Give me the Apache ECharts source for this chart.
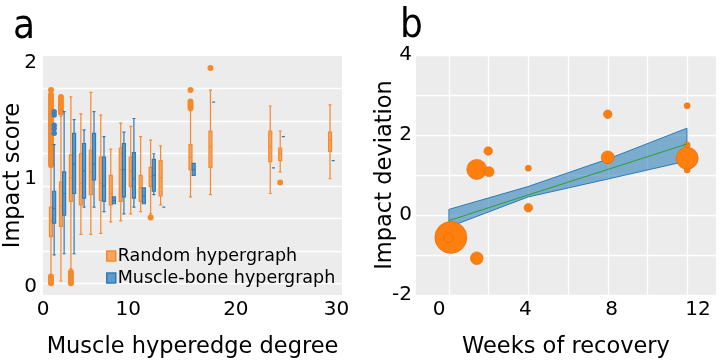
<!DOCTYPE html>
<html><head><meta charset="utf-8">
<script src="https://cdn.jsdelivr.net/npm/echarts@6/dist/echarts.min.js"></script>
<style>html,body{margin:0;padding:0;background:#fff}#c{width:720px;height:361px}</style>
</head><body><div id="c"></div>
<script>
// ---------------- Panel a data ----------------
const randomDegrees = [1,2,3,4,5,6,7,8,9,10,11,12,15,17,23,24,29];
// [lower whisker, Q1, median, Q3, upper whisker]
const randomBoxes = [
  [0.06,0.41,0.55,0.67,1.02],
  [0.02,0.50,0.68,0.89,1.47],
  [0.13,0.72,0.93,1.13,1.64],
  [0.43,0.69,0.88,1.14,1.49],
  [0.43,0.78,0.98,1.17,1.68],
  [0.44,0.73,0.88,1.11,1.48],
  [0.54,0.69,0.79,0.95,1.18],
  [0.55,0.72,1.00,1.19,1.41],
  [0.61,0.85,0.99,1.11,1.38],
  [0.63,0.72,0.84,0.95,1.29],
  [0.61,0.85,0.94,1.02,1.26],
  [0.69,0.77,0.93,1.08,1.21],
  [0.76,1.00,1.11,1.22,1.52],
  [0.78,1.02,1.20,1.34,1.70],
  [0.79,1.07,1.20,1.34,1.56],
  [0.98,1.08,1.14,1.19,1.34],
  [0.92,1.16,1.26,1.33,1.57]
];
const randomOutlierDegrees = [
  1,1,1,1,1,1,1,1,1,1,1,1,1,1,1,1,1,1,1,1,1,1,1,1,1,1,1,1,1,1,1,1,1,1,1,1,1,1,
  2,2,2,2,2,2,2,2, 3,3,3,3,3,3, 11, 15,15,15,15,15, 17, 24];
const randomOutlierValues  = [
  1.70,1.66,1.64,1.62,1.60,1.58,1.56,1.54,1.52,1.50,1.48,1.46,1.44,1.42,1.40,1.38,1.36,1.34,1.32,1.30,
  1.28,1.26,1.24,1.22,1.20,1.18,1.16,1.14,1.12,1.10,1.08,1.06,1.04,0.00,0.015,0.03,0.045,0.06,
  1.64,1.62,1.60,1.58,1.56,1.54,1.52,1.50, 0.00,0.02,0.04,0.06,0.08,0.10, 0.58, 1.70,1.60,1.58,1.56,1.54, 1.895, 0.886];

const muscleDegrees = [1,2,3,4,5,6,7,8,9,10,11,12,15,17,23,24,29];
const muscleBoxes = [
  [0.25,0.53,0.66,0.81,1.22],
  [0.26,0.60,0.79,0.98,1.51],
  [0.26,0.79,1.05,1.32,1.44],
  [0.67,0.75,0.99,1.23,1.35],
  [0.67,0.91,1.05,1.32,1.51],
  [0.63,0.72,0.86,1.11,1.29],
  [0.70,0.70,0.73,0.76,0.76],
  [0.61,0.76,1.00,1.23,1.33],
  [0.67,0.75,0.92,1.15,1.45],
  [0.70,0.70,0.77,0.84,0.84],
  [0.78,0.81,0.95,1.09,1.14],
  [0.67,0.67,0.67,0.67,0.67],
  [0.95,0.95,1.00,1.055,1.055],
  [1.595,1.595,1.595,1.595,1.595],
  [1.016,1.016,1.016,1.016,1.016],
  [1.29,1.29,1.29,1.29,1.29],
  [1.08,1.08,1.08,1.08,1.08]
];
const muscleOutlierDegrees = [1,1,1,1,1];
const muscleOutlierValues  = [1.51,1.48,1.39,1.36,1.32];

const yTicksA = [0,1,2];
const xTickLabelsA = ['0','10','20','30'];

// ---------------- Panel b data ----------------
const weeks      = [0.55, 0.43, 1.75, 1.75, 2.28, 2.32, 4.14, 4.14, 7.82, 7.82, 11.5, 11.5, 11.5, 11.5];
const deviation  = [-0.56,-0.57, 1.14,-1.08, 1.60, 1.08, 1.17, 0.18, 2.52, 1.44, 2.73, 1.75, 1.125, 1.42];
const pointWeight= [256, 22, 100, 40, 18, 25, 9, 18, 18, 42, 9, 9, 9, 121];
const bandWeeks  = [0.46, 4.12, 7.83, 11.49];
const bandLower  = [-0.30, 0.45, 0.90, 1.35];
const bandUpper  = [0.14, 0.71, 1.40, 2.17];
const fitValues  = [-0.14, 0.50, 1.14, 1.775];
const xTicksB = [0,4,8,12];
const yTicksB = [-2,0,2,4];

// ---------------- layout / style ----------------
const FONT = 'DejaVu Sans';
const BG = '#ececec';
const ORANGE = '#f7892b', ORANGE_FILL = '#f6a560';
const BLUE = '#2f7ab8', BLUE_FILL = '#5d9acd';
const OFF_R = -0.2, OFF_M = 0.12;           // side-by-side offsets of the two box families
const gridLinesA = [0,1,2,3,4,5,6].map(k => k*2/7);   // horizontal grid positions, panel a
const labelPosA = [0, 8.55, 19.35, 29.45];              // where the x tick labels sit, panel a
const gridLinesB = [0.48, 2.29, 4.14, 5.99, 7.82, 9.67, 11.5]; // vertical grid positions, panel b

const chart = echarts.init(document.getElementById('c'), null, {renderer:'canvas'});
const letterStyle = {fontSize:40, fontWeight:'normal', color:'#000', fontFamily:"'DejaVu Sans Condensed', 'DejaVu Sans'"};
const nameStyle = {fontSize:22.5, color:'#000', fontFamily:FONT};
const option = {
  animation: false,
  textStyle: {fontFamily: FONT},
  title: [
    {text:'a', left: 8, top: 3, textStyle:letterStyle},
    {text:'b', left: 395, top: 2, textStyle:letterStyle}
  ],
  legend: {
    orient:'vertical', left:106, top:247, padding:0, itemGap:4, itemWidth:9, itemHeight:10,
    textStyle:{fontSize:17.5, lineHeight:17, color:'#000', fontFamily:FONT, padding:[0,0,0,-3]},
    data:[
      {name:'Random hypergraph', icon:'rect', itemStyle:{color:ORANGE_FILL, borderColor:ORANGE, borderWidth:1.5}},
      {name:'Muscle-bone hypergraph', icon:'rect', itemStyle:{color:BLUE_FILL, borderColor:BLUE, borderWidth:1.5}}
    ]
  },
  grid: [
    {left:43, top:56, width:299, height:239, show:true, backgroundColor:BG, borderWidth:0, containLabel:false, outerBoundsMode:'none'},
    {left:416, top:55, width:300, height:240, show:true, backgroundColor:BG, borderWidth:0, containLabel:false, outerBoundsMode:'none'}
  ],
  xAxis: [
    {gridIndex:0, type:'value', min:0, max:30,
      name:'Muscle hyperedge degree', nameLocation:'middle', nameGap:41, nameMoveOverlap:false,
      nameTextStyle:nameStyle,
      axisLine:{show:false}, axisTick:{show:false}, splitLine:{show:false},
      axisLabel:{customValues:labelPosA, margin:5, fontSize:20, color:'#000', fontFamily:FONT,
        formatter:(v)=>{const i = labelPosA.findIndex(p=>Math.abs(p-v)<1e-6); return i>=0 ? xTickLabelsA[i] : '';}}},
    {gridIndex:0, type:'value', min:0, max:30, show:false, splitLine:{show:false}},
    {gridIndex:1, type:'value', min:-1.066, max:12.836,
      name:'Weeks of recovery', nameLocation:'middle', nameGap:41, nameMoveOverlap:false,
      nameTextStyle:nameStyle,
      axisLine:{show:false}, axisTick:{show:false, customValues:gridLinesB},
      splitLine:{show:true, lineStyle:{color:'#ffffff', width:1.3}},
      axisLabel:{customValues:xTicksB, margin:5, fontSize:20, color:'#000', fontFamily:FONT}}
  ],
  yAxis: [
    {gridIndex:0, type:'value', min:-0.103, max:2.0,
      name:'Impact score', nameLocation:'middle', nameGap:18, nameRotate:90, nameMoveOverlap:false,
      nameTextStyle:nameStyle,
      axisLine:{show:false}, axisTick:{show:false, customValues:gridLinesA},
      splitLine:{show:true, lineStyle:{color:'#ffffff', width:1.3}},
      axisLabel:{customValues:yTicksA, margin:6, fontSize:20, color:'#000', fontFamily:FONT,
        formatter:(v)=>'{s'+v+'|'+v+'}',
        rich:{s0:{padding:[7,0,0,0], fontSize:20}, s1:{padding:[19,0,0,0], fontSize:20}, s2:{padding:[14,0,0,0], fontSize:20}}}},
    {gridIndex:1, type:'value', min:-2, max:4, interval:1,
      name:'Impact deviation', nameLocation:'middle', nameGap:19, nameRotate:90, nameMoveOverlap:false,
      nameTextStyle:nameStyle,
      axisLine:{show:false}, axisTick:{show:false},
      splitLine:{show:true, lineStyle:{color:'#ffffff', width:1.3}},
      axisLabel:{customValues:yTicksB, margin:4, fontSize:20, color:'#000', fontFamily:FONT}}
  ],
  series: [
    {type:'boxplot', name:'Random hypergraph', xAxisIndex:0, yAxisIndex:0, boxWidth:[3,3],
      data: randomBoxes.map((b,i)=>[randomDegrees[i]+OFF_R].concat(b)),
      itemStyle:{color:ORANGE_FILL, borderColor:ORANGE, borderWidth:1.2}},
    {type:'scatter', name:'Random hypergraph', xAxisIndex:0, yAxisIndex:0, symbolSize:6,
      data: randomOutlierDegrees.map((d,i)=>[d+OFF_R, randomOutlierValues[i]]),
      itemStyle:{color:ORANGE, opacity:1}},
    {type:'boxplot', name:'Muscle-bone hypergraph', xAxisIndex:1, yAxisIndex:0, boxWidth:[3,3],
      data: muscleBoxes.map((b,i)=>[muscleDegrees[i]+OFF_M].concat(b)),
      itemStyle:{color:BLUE_FILL, borderColor:BLUE, borderWidth:1.2}},
    {type:'scatter', name:'Muscle-bone hypergraph', xAxisIndex:1, yAxisIndex:0, symbolSize:5.5,
      data: muscleOutlierDegrees.map((d,i)=>[d+OFF_M, muscleOutlierValues[i]]),
      itemStyle:{color:'#3a82be', opacity:1}},
    // panel b
    {type:'custom', xAxisIndex:2, yAxisIndex:1, silent:true,
      data: bandWeeks.map((w,i)=>[w, bandLower[i], bandUpper[i]]),
      renderItem:(params, api)=>{
        if (params.dataIndex !== 0) return null;
        const pts = [];
        for (let i=0;i<bandWeeks.length;i++) pts.push(api.coord([bandWeeks[i], bandUpper[i]]));
        for (let i=bandWeeks.length-1;i>=0;i--) pts.push(api.coord([bandWeeks[i], bandLower[i]]));
        return {type:'polygon', shape:{points:pts}, style:{fill:'rgba(31,119,180,0.55)', stroke:'#2b7bba', lineWidth:1}};
      }},
    {type:'line', xAxisIndex:2, yAxisIndex:1, symbol:'none',
      data: bandWeeks.map((w,i)=>[w, fitValues[i]]),
      lineStyle:{color:'#2ca02c', width:1}},
    {type:'scatter', xAxisIndex:2, yAxisIndex:1,
      data: weeks.map((w,i)=>[w, deviation[i], pointWeight[i]]),
      symbolSize:(v)=>2*Math.sqrt(v[2]),
      itemStyle:{color:'#ff7f0e', borderColor:'#de6a08', borderWidth:0.6, opacity:1}}
  ]
};
chart.setOption(option);
</script>
</body></html>
